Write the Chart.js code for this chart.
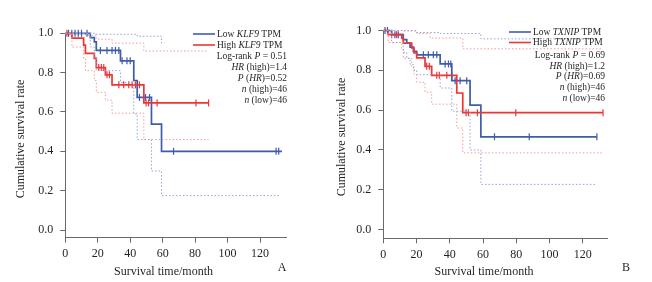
<!DOCTYPE html>
<html>
<head>
<meta charset="utf-8">
<script src="https://cdn.jsdelivr.net/npm/chart.js@4.4.1/dist/chart.umd.min.js"></script>
<style>
body { margin: 0; background: #fff; }
.panel { position: absolute; top: 0; width: 326px; height: 282px; }
</style>
</head>
<body>
<div class="panel" style="left:0"><canvas id="chartA" width="326" height="282"></canvas></div>
<div class="panel" style="left:326px"><canvas id="chartB" width="326" height="282"></canvas></div>
<script>
// ---- ticks ----
const xTicks = [0, 20, 40, 60, 80, 100, 120];
const yTicks = [0, 0.2, 0.4, 0.6, 0.8, 1.0];

// ---- Panel A : KLF9 ----
const klf9LowTime = [0, 15.4, 17.9, 19.1, 34.0, 42.2, 44.3, 53.1, 59.3, 133.5];
const klf9LowSurv = [1, 0.978, 0.956, 0.913, 0.86, 0.76, 0.674, 0.538, 0.40, 0.40];
const klf9HighTime = [0, 4.1, 11.3, 12.4, 17.9, 19.1, 24.7, 28.8, 48.4, 88.3];
const klf9HighSurv = [1, 0.975, 0.94, 0.898, 0.873, 0.826, 0.789, 0.738, 0.646, 0.646];
const klf9LowCens = [2, 4, 6, 8, 10, 13.4, 21.6, 25.7, 28.8, 30.9, 33, 35, 38, 40, 45.7, 49.4, 51.9, 66.7, 129.9, 131.5];
const klf9HighCens = [1, 20.6, 22.2, 23.7, 25.7, 27.2, 33, 36, 39.1, 41.2, 43.2, 45.7, 49.8, 51.3, 56.6, 80.5, 88.3];
// intervalos de confianza
const klf9LowUpT = [0, 19.1, 44.3, 59.3, 61];
const klf9LowUpS = [1, 0.995, 0.985, 0.95, 0.95];
const klf9LowLoT = [0, 15.4, 17.9, 19.1, 34.0, 42.2, 44.3, 53.1, 59.3, 132.5];
const klf9LowLoS = [1, 0.93, 0.88, 0.81, 0.75, 0.59, 0.46, 0.30, 0.175, 0.175];
const klf9HighUpT = [0, 12.4, 19.1, 28.8, 48.4, 88.3];
const klf9HighUpS = [1, 0.99, 0.97, 0.95, 0.91, 0.91];
const klf9HighLoT = [0, 4.1, 11.3, 12.4, 17.9, 19.1, 24.7, 28.8, 48.4, 88.3];
const klf9HighLoS = [1, 0.93, 0.87, 0.81, 0.76, 0.70, 0.66, 0.594, 0.46, 0.46];

// ---- Panel B : TXNIP ----
const txnipLowTime = [0, 5, 12, 14.1, 16.1, 18.1, 20.1, 34.2, 41.2, 52.2, 58.7, 128.5];
const txnipLowSurv = [1, 0.979, 0.954, 0.937, 0.916, 0.895, 0.878, 0.832, 0.748, 0.625, 0.466, 0.466];
const txnipHighTime = [0, 3, 11.1, 12, 17.1, 18.5, 20.1, 25.1, 29.1, 44.2, 47.8, 132.2];
const txnipHighSurv = [1, 0.979, 0.962, 0.937, 0.912, 0.887, 0.862, 0.82, 0.775, 0.686, 0.587, 0.587];
const txnipLowCens = [1, 2.5, 7, 9, 24.1, 27.1, 30.1, 32.2, 37.2, 39.2, 40.6, 43.2, 46.2, 50.2, 66.9, 87.8, 128.5];
const txnipHighCens = [5, 8, 26.1, 27.7, 32.2, 33.7, 38.2, 41.2, 49.8, 51.2, 56.6, 79.7, 132.2];
const txnipLowUpT = [0, 20.1, 34.2, 58.7, 128.5];
const txnipLowUpS = [1, 0.99, 0.985, 0.958, 0.958];
const txnipLowLoT = [0, 5, 12, 14.1, 16.1, 18.1, 20.1, 34.2, 41.2, 52.2, 58.7, 128.5];
const txnipLowLoS = [1, 0.94, 0.89, 0.86, 0.83, 0.80, 0.778, 0.711, 0.595, 0.40, 0.227, 0.227];
const txnipHighUpT = [0, 12, 20.1, 28.1, 47.8, 132.2];
const txnipHighUpS = [1, 0.997, 0.985, 0.962, 0.908, 0.908];
const txnipHighLoT = [0, 3, 11.1, 12, 17.1, 18.5, 20.1, 25.1, 29.1, 44.2, 47.8, 132.2];
const txnipHighLoS = [1, 0.94, 0.91, 0.86, 0.82, 0.78, 0.74, 0.69, 0.63, 0.51, 0.385, 0.385];

// ---- textos ----
const yTitle = 'Cumulative survival rate';
const xTitle = 'Survival time/month';
const klf9Legend = [[['Low ', 0], ['KLF9', 1], [' TPM', 0]], [['High ', 0], ['KLF9', 1], [' TPM', 0]]];
const klf9Stats = [
    [['Log-rank ', 0], ['P', 1], [' = 0.51', 0]],
    [['HR', 1], [' (high)=1.4', 0]],
    [['P', 1], [' (', 0], ['HR', 1], [')=0.52', 0]],
    [['n', 1], [' (high)=46', 0]],
    [['n', 1], [' (low)=46', 0]]
];
const txnipLegend = [[['Low ', 0], ['TXNIP', 1], [' TPM', 0]], [['High ', 0], ['TXNIP', 1], [' TPM', 0]]];
const txnipStats = [
    [['Log-rank ', 0], ['P', 1], [' = 0.69', 0]],
    [['HR', 1], [' (high)=1.2', 0]],
    [['P', 1], [' (', 0], ['HR', 1], [')=0.69', 0]],
    [['n', 1], [' (high)=46', 0]],
    [['n', 1], [' (low)=46', 0]]
];

const BLUE = '#3d5dab';
const RED = '#ee3535';
const BLUE_CI = '#95a3d6';
const RED_CI = '#f49a9a';
const FONT = '"Liberation Serif", "Times New Roman", serif';
const TEXT = '#231f20';
const AXIS = '#6a6a6a';

function pts(times, surv) {
    return times.map((t, i) => ({ x: t, y: surv[i] }));
}

// valor de la curva escalonada en el tiempo t (para las marcas de censura)
function stepAt(times, surv, t) {
    let v = surv[0];
    for (let i = 0; i < times.length; i++) {
        if (times[i] <= t) v = surv[i];
    }
    return v;
}

function stepLine(times, surv, color, width, dash) {
    return {
        type: 'line',
        data: pts(times, surv),
        stepped: true,
        borderColor: color,
        borderWidth: width,
        borderDash: dash || [],
        pointRadius: 0,
        fill: false,
        clip: false
    };
}

function censors(cens, times, surv, color) {
    return {
        type: 'line',
        data: cens.map(t => ({ x: t, y: stepAt(times, surv, t) })),
        showLine: false,
        pointStyle: 'line',
        rotation: 90,
        pointRadius: 3.5,
        pointBorderWidth: 1.2,
        borderColor: color,
        backgroundColor: color,
        clip: false
    };
}

function drawRich(ctx, parts, x, y, align, size) {
    const fonts = parts.map(p => (p[1] ? 'italic ' : '') + size + 'px ' + FONT);
    let w = 0;
    parts.forEach((p, i) => { ctx.font = fonts[i]; w += ctx.measureText(p[0]).width; });
    let cx = align === 'right' ? x - w : x;
    ctx.textAlign = 'left';
    ctx.textBaseline = 'middle';
    parts.forEach((p, i) => {
        ctx.font = fonts[i];
        ctx.fillText(p[0], cx, y);
        cx += ctx.measureText(p[0]).width;
    });
}

function textPlugin(cfg) {
    return {
        id: 'panelText' + cfg.letter,
        afterDraw(chart) {
            const ctx = chart.ctx;
            ctx.save();
            ctx.fillStyle = TEXT;
            // titulo eje y
            ctx.save();
            ctx.translate(cfg.yTitleX, cfg.yTitleY);
            ctx.rotate(-Math.PI / 2);
            ctx.font = '12px ' + FONT;
            ctx.textAlign = 'center';
            ctx.textBaseline = 'middle';
            ctx.fillText(yTitle, 0, 0);
            ctx.restore();
            // titulo eje x y letra
            ctx.font = '12px ' + FONT;
            ctx.textAlign = 'center';
            ctx.textBaseline = 'middle';
            ctx.fillText(xTitle, cfg.xTitleX, 272);
            ctx.fillText(cfg.letter, cfg.letterX, 268);
            // leyenda
            const cols = [BLUE, RED];
            cfg.legend.forEach((parts, i) => {
                const ly = cfg.legendY[i];
                ctx.strokeStyle = cols[i];
                ctx.lineWidth = 1.6;
                ctx.beginPath();
                ctx.moveTo(cfg.legendX - 24, ly);
                ctx.lineTo(cfg.legendX - 2, ly);
                ctx.stroke();
                ctx.fillStyle = TEXT;
                drawRich(ctx, parts, cfg.legendX, ly, 'left', 9.5);
            });
            cfg.stats.forEach((parts, i) => {
                drawRich(ctx, parts, cfg.statsX, cfg.statsY[i], 'right', 9.5);
            });
            ctx.restore();
        }
    };
}

function makeChart(id, d, layout, cfg) {
    const tickFont = { family: FONT, size: 12 };
    return new Chart(document.getElementById(id), {
        data: {
            datasets: [
                stepLine(d.lowUpT, d.lowUpS, BLUE_CI, 1, [1.5, 2]),
                stepLine(d.lowLoT, d.lowLoS, BLUE_CI, 1, [1.5, 2]),
                stepLine(d.highUpT, d.highUpS, RED_CI, 1, [1.5, 2]),
                stepLine(d.highLoT, d.highLoS, RED_CI, 1, [1.5, 2]),
                stepLine(d.highT, d.highS, RED, 1.7),
                stepLine(d.lowT, d.lowS, BLUE, 1.7),
                censors(d.highC, d.highT, d.highS, RED),
                censors(d.lowC, d.lowT, d.lowS, BLUE)
            ]
        },
        options: {
            responsive: false,
            animation: false,
            devicePixelRatio: 1,
            layout: { padding: { left: 0, top: layout.top, right: layout.right, bottom: 0 } },
            plugins: { legend: { display: false }, tooltip: { enabled: false } },
            scales: {
                x: {
                    type: 'linear',
                    min: 0,
                    max: layout.xMax,
                    afterBuildTicks: s => { s.ticks = xTicks.map(v => ({ value: v })); },
                    afterFit: s => { s.height = layout.xH; },
                    grid: { drawOnChartArea: false, tickLength: 5, color: AXIS },
                    border: { color: AXIS, width: 1 },
                    ticks: { font: tickFont, color: TEXT, padding: 4, maxRotation: 0 }
                },
                y: {
                    type: 'linear',
                    min: layout.yMin,
                    max: 1.0,
                    afterBuildTicks: s => { s.ticks = yTicks.map(v => ({ value: v })); },
                    afterFit: s => { s.width = layout.yW; },
                    grid: { drawOnChartArea: false, tickLength: 5, color: AXIS },
                    border: { color: AXIS, width: 1 },
                    ticks: { font: tickFont, color: TEXT, padding: 7, callback: v => v.toFixed(1) }
                }
            }
        },
        plugins: [textPlugin(cfg)]
    });
}

makeChart('chartA', {
    lowT: klf9LowTime, lowS: klf9LowSurv, highT: klf9HighTime, highS: klf9HighSurv,
    lowC: klf9LowCens, highC: klf9HighCens,
    lowUpT: klf9LowUpT, lowUpS: klf9LowUpS, lowLoT: klf9LowLoT, lowLoS: klf9LowLoS,
    highUpT: klf9HighUpT, highUpS: klf9HighUpS, highLoT: klf9HighLoT, highLoS: klf9HighLoS
}, { top: 33.3, right: 40, xH: 44.3, yW: 65.3, xMax: 136, yMin: -0.039 }, {
    letter: 'A', letterX: 282, xTitleX: 163.5, yTitleX: 21, yTitleY: 139,
    legend: klf9Legend, legendX: 217, legendY: [34, 45],
    stats: klf9Stats, statsX: 287, statsY: [56.7, 67.7, 78.5, 89.5, 100.5]
});

makeChart('chartB', {
    lowT: txnipLowTime, lowS: txnipLowSurv, highT: txnipHighTime, highS: txnipHighSurv,
    lowC: txnipLowCens, highC: txnipHighCens,
    lowUpT: txnipLowUpT, lowUpS: txnipLowUpS, lowLoT: txnipLowLoT, lowLoS: txnipLowLoS,
    highUpT: txnipHighUpT, highUpS: txnipHighUpS, highLoT: txnipHighLoT, highLoS: txnipHighLoS
}, { top: 30.5, right: 44.3, xH: 43.7, yW: 57.3, xMax: 135, yMin: -0.044 }, {
    letter: 'B', letterX: 300, xTitleX: 158, yTitleX: 16, yTitleY: 137,
    legend: txnipLegend, legendX: 207, legendY: [32, 42.5],
    stats: txnipStats, statsX: 279, statsY: [55, 66.3, 76.8, 87.7, 98.3]
});
</script>
</body>
</html>
